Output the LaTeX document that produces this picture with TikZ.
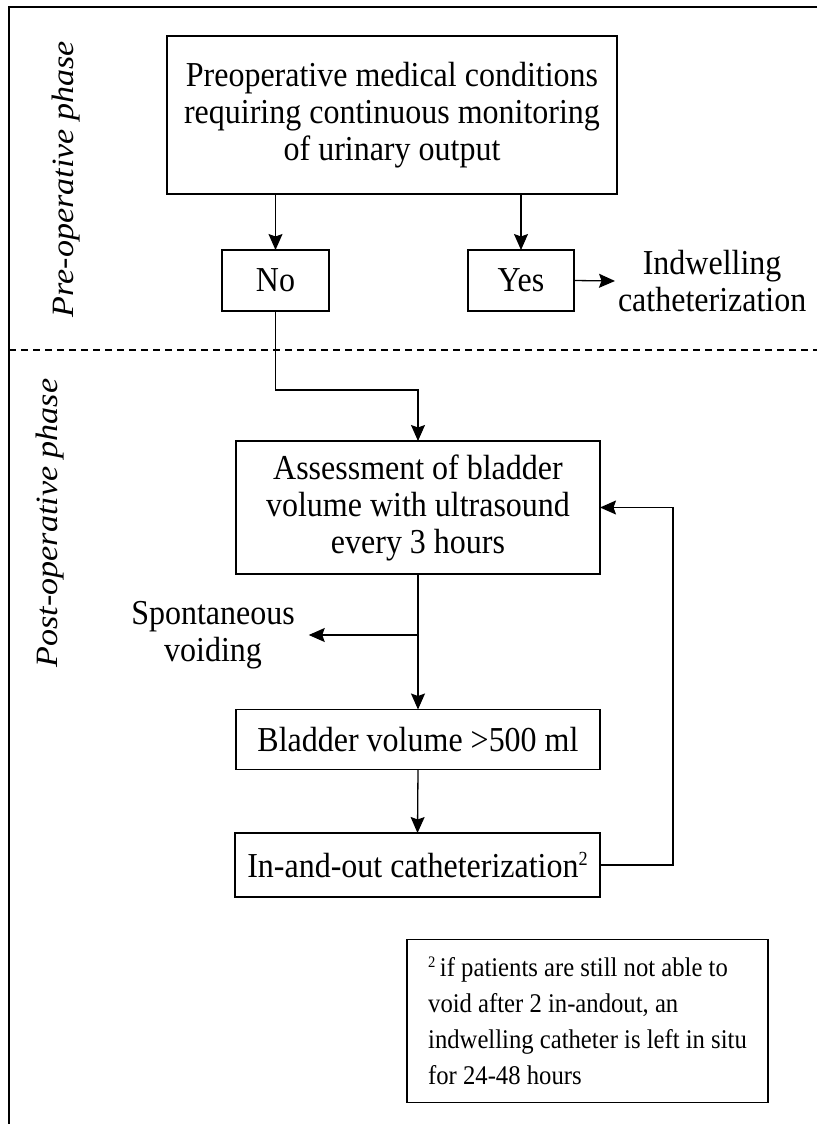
\documentclass[tikz,border=0pt]{standalone}
\usepackage{fontspec}
\setmainfont{Liberation Serif}[FakeStretch=0.914]
\newfontfamily\phasefont{Liberation Serif}[FakeStretch=1.1]
\usetikzlibrary{arrows.meta}
\newcommand{\supnum}[2]{\raisebox{#2}{\fontsize{#1}{#1}\selectfont 2}}
\begin{document}
\begin{tikzpicture}[x=1pt,y=-1pt,
  box/.style={draw, line width=1.3pt, outer sep=0pt, inner sep=0pt, align=center,
    font=\fontsize{35}{37}\selectfont},
  plain/.style={outer sep=0pt, inner sep=0pt, align=center,
    font=\fontsize{35}{37}\selectfont},
  phase/.style={rotate=90, font=\phasefont\fontsize{31}{36}\selectfont\itshape},
  arr/.style={line width=1.3pt, -{Stealth[length=16pt,width=14pt,inset=2.5pt]}},
]
\useasboundingbox (0,0) rectangle (817,1124);

% outer frame (top and left edges)
\draw[line width=1.8pt] (817,7) -- (9,7) -- (9,1124);
% phase separator
\draw[line width=1.2pt, dash pattern=on 7pt off 5pt] (9,350) -- (817,350);

% phase labels
\node[phase] (pre)  at (66,179) {Pre-operative phase};
\node[phase] (post) at (50,523) {Post-operative phase};

% pre-operative part
\node[box, minimum width=450, minimum height=158] (cond) at (392,115)
  {Preoperative medical conditions\\requiring continuous monitoring\\of urinary output};
\node[box, minimum width=107, minimum height=61] (no)  at (275.5,280.5) {No};
\node[box, minimum width=106, minimum height=61] (yes) at (521,280.5) {Yes};
\node[plain, anchor=west] (ind) at (618,281) {Indwelling\\catheterization};

\draw[arr] (cond.south -| no) -- (no.north);
\draw[arr] (cond.south -| yes) -- (yes.north);
\draw[arr] (yes.east) -- ([xshift=-3]ind.west);

% post-operative part
\node[box, minimum width=364, minimum height=133] (assess) at (418,507.5)
  {Assessment of bladder\\volume with ultrasound\\every 3 hours};
\node[box, minimum width=364, minimum height=60] (vol) at (418,739.5)
  {Bladder volume >500 ml};
\node[box, minimum width=365, minimum height=64] (inout) at (417.5,865)
  {In-and-out catheterization\supnum{20}{12pt}};
\node[plain] (spont) at (213,635) {Spontaneous\\voiding};
\coordinate (branch) at (418,635);

\draw[arr] (no.south) -- ++(0,79) -| (assess.north);
\draw[arr] (assess.south) -- (vol.north);
\draw[arr] (branch) -- ([xshift=14]spont.east);
\draw[arr] (vol.south) -- (inout.north);
\draw[arr] (inout.east) -- ++(73,0) |- (assess.east);

% footnote
\node[draw, line width=1.3pt, outer sep=0pt, inner sep=0pt,
  minimum width=361, minimum height=163, align=left,
  font=\fontsize{27}{36}\selectfont] (note) at (587.5,1021)
  {\supnum{16}{9pt}\,if patients are still not able to\\void after 2 in-andout, an\\indwelling catheter is left in situ\\for 24-48 hours};
\end{tikzpicture}
\end{document}
